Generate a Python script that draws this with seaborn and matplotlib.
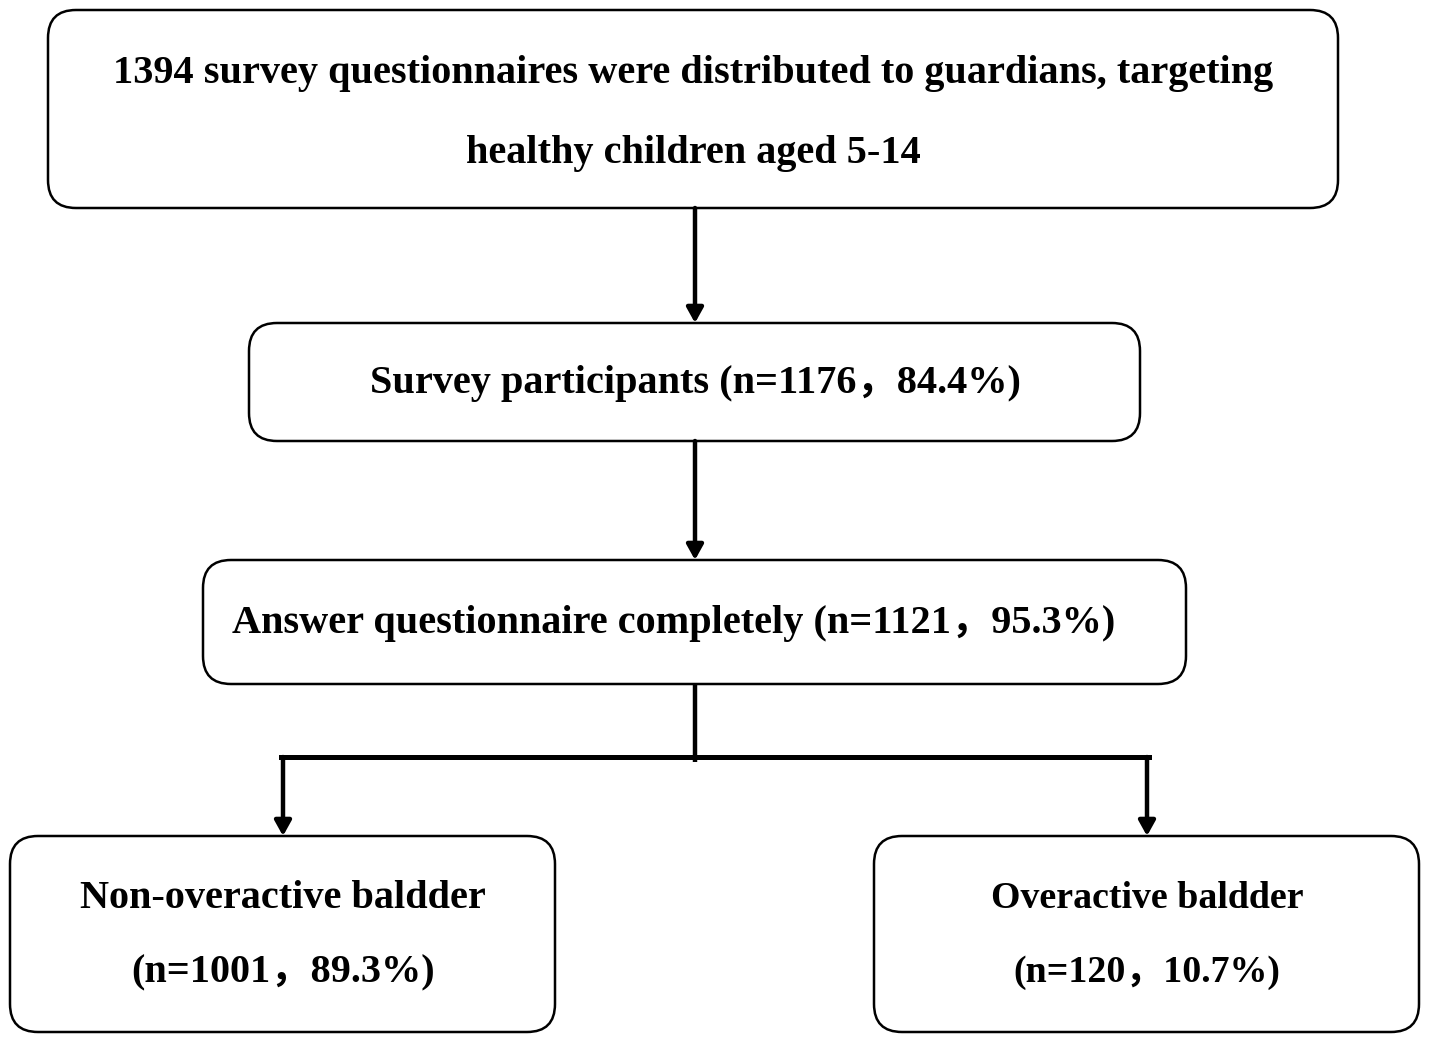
import seaborn as sns
import matplotlib.pyplot as plt
from matplotlib.patches import FancyBboxPatch

# flowchart texts
intro_lines = ["1394 survey questionnaires were distributed to guardians, targeting",
               "healthy children aged 5-14"]
step_texts = ["Survey participants (n=1176，84.4%)",
              "Answer questionnaire completely (n=1121，95.3%)"]
group_names = ["Non-overactive baldder", "Overactive baldder"]
group_counts = ["(n=1001，89.3%)", "(n=120，10.7%)"]

sns.set_style("white")
plt.rcParams['font.family'] = ['Liberation Serif', 'Noto Sans CJK SC', 'DejaVu Sans']

fig = plt.figure(figsize=(14.29, 10.44), dpi=100)
ax = fig.add_axes([0, 0, 1, 1])
ax.set_xlim(0, 1429)
ax.set_ylim(1044, 0)
ax.axis("off")

# box layout: x0, y0, x1, y1 in pixels
boxes = [(48, 10, 1338, 208), (249, 323, 1140, 441), (203, 560, 1186, 684),
         (10, 836, 555, 1032), (874, 836, 1419, 1032)]
for x0, y0, x1, y1 in boxes:
    ax.add_patch(FancyBboxPatch((x0, y0), x1 - x0, y1 - y0,
                                boxstyle="round,pad=0,rounding_size=28",
                                fc="white", ec="black", lw=1.8))

txt = dict(ha="center", va="center", fontsize=29, fontweight="bold", color="black")
ax.text(693, 74, intro_lines[0], **txt)
ax.text(693, 154, intro_lines[1], **txt)
ax.text(695, 383, step_texts[0], **txt)
ax.text(674, 623, step_texts[1], **txt)
for cx, name, cnt, fs in zip([283, 1147], group_names, group_counts, [29, 27.3]):
    ax.text(cx, 899, name, **{**txt, "fontsize": fs})
    ax.text(cx, 973, cnt, **{**txt, "fontsize": fs})

arrow = dict(arrowstyle="-|>,head_length=0.9,head_width=0.5", color="black",
             lw=3.2, shrinkA=0, shrinkB=0)
ax.annotate("", xy=(695, 323), xytext=(695, 208), arrowprops=arrow)
ax.annotate("", xy=(695, 560), xytext=(695, 441), arrowprops=arrow)
ax.plot([695, 695], [684, 762], color="black", lw=3.2, solid_capstyle="butt")
ax.plot([281, 1149], [757, 757], color="black", lw=3.6, solid_capstyle="projecting")
ax.annotate("", xy=(283, 836), xytext=(283, 757), arrowprops=arrow)
ax.annotate("", xy=(1147, 836), xytext=(1147, 757), arrowprops=arrow)

fig.savefig("out.png", dpi=100)
